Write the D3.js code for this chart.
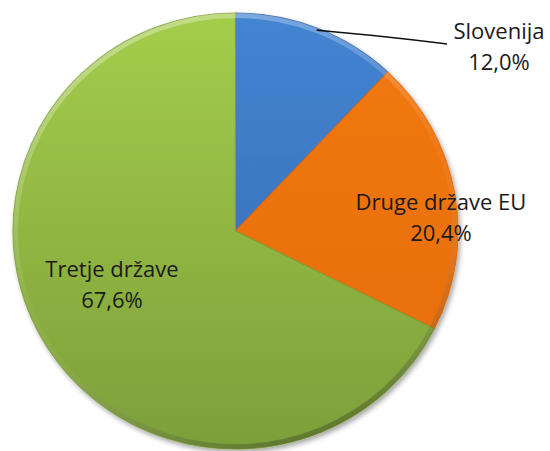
<!DOCTYPE html>
<html>
<head>
<meta charset="utf-8">
<script src="https://cdn.jsdelivr.net/npm/d3@7"></script>
<style>
  html, body { margin: 0; padding: 0; background: #fff; }
  svg text { font-family: "Open Sans", "Noto Sans", sans-serif; fill: #1a1a1a; }
</style>
</head>
<body>
<svg id="chart" width="550" height="451"></svg>
<script>

// data -----------------------------------
var categories = ["Slovenija", "Druge države EU", "Tretje države"]
var values     = [12.0, 20.4, 67.6]
var labels     = ["12,0%", "20,4%", "67,6%"]

var topColors    = ["#4385d3", "#f27a14", "#a4cd4b"]
var bottomColors = ["#3566ab", "#e56a06", "#7d9f3a"]

var svg = d3.select("#chart"),
	cx = 235.5, cy = 231,
	rx = 222.5, ry = 218;

var data = categories.map((c, i) => ({name: c, value: values[i], label: labels[i], i: i}))

var defs = svg.append("defs")

defs.append("filter")
	.attr("id", "shadow")
	.attr("x", "-10%").attr("y", "-10%")
	.attr("width", "120%").attr("height", "120%")
  .append("feDropShadow")
	.attr("dx", 2).attr("dy", 3)
	.attr("stdDeviation", 2.5)
	.attr("flood-color", "#000")
	.attr("flood-opacity", 0.35)

data.forEach(function(d) {
	var g = defs.append("linearGradient")
		.attr("id", "grad" + d.i)
		.attr("gradientUnits", "userSpaceOnUse")
		.attr("x1", 0).attr("y1", -rx)
		.attr("x2", 0).attr("y2", rx)
	g.append("stop").attr("offset", "0%").attr("stop-color", topColors[d.i])
	g.append("stop").attr("offset", "100%").attr("stop-color", bottomColors[d.i])
})

var bevel = defs.append("linearGradient")
	.attr("id", "bevel")
	.attr("gradientUnits", "userSpaceOnUse")
	.attr("x1", -rx * 0.4).attr("y1", -rx)
	.attr("x2", rx * 0.4).attr("y2", rx)
bevel.append("stop").attr("offset", "0%").attr("stop-color", "#fff").attr("stop-opacity", 0.35)
bevel.append("stop").attr("offset", "50%").attr("stop-color", "#fff").attr("stop-opacity", 0.03)
bevel.append("stop").attr("offset", "100%").attr("stop-color", "#000").attr("stop-opacity", 0.3)

var pie = d3.pie()
	.sort(null)
	.value(d => d.value)

var arc = d3.arc()
	.innerRadius(0)
	.outerRadius(rx)

var ring = d3.arc()
	.innerRadius(rx - 5)
	.outerRadius(rx)

var arcs = pie(data)

var pieG = svg.append("g")
	.attr("transform", `translate(${cx},${cy}) scale(1,${ry / rx})`)
	.attr("filter", "url(#shadow)")

pieG.selectAll("path.slice")
	.data(arcs)
  .enter().append("path")
	.attr("class", "slice")
	.attr("d", arc)
	.attr("fill", d => `url(#grad${d.data.i})`)
	.attr("stroke", d => bottomColors[d.data.i])
	.attr("stroke-width", 1.2)
	.attr("stroke-opacity", 0.9)

pieG.selectAll("path.bevel")
	.data(arcs)
  .enter().append("path")
	.attr("class", "bevel")
	.attr("d", ring)
	.attr("fill", "url(#bevel)")

// leader line for the small slice
var s = arcs[0],
	mid = (s.startAngle + s.endAngle) / 2,
	p0 = [cx + Math.sin(mid) * (rx - 2), cy - Math.cos(mid) * (ry - 2)]

svg.append("path")
	.attr("d", d3.line().curve(d3.curveBasis)([p0, [400, 38], [447, 44]]))
	.attr("fill", "none")
	.attr("stroke", "#111")
	.attr("stroke-width", 1.6)

// labels
var labelPos = [[499, 39], [441, 210], [112, 277]]

var lbl = svg.selectAll("text.lbl")
	.data(data)
  .enter().append("text")
	.attr("class", "lbl")
	.attr("text-anchor", "middle")
	.attr("font-size", "22px")
	.attr("x", d => labelPos[d.i][0])
	.attr("y", d => labelPos[d.i][1])

lbl.append("tspan")
	.text(d => d.name)

lbl.append("tspan")
	.attr("x", d => labelPos[d.i][0])
	.attr("dy", 31)
	.text(d => d.label)

</script>
</body>
</html>
